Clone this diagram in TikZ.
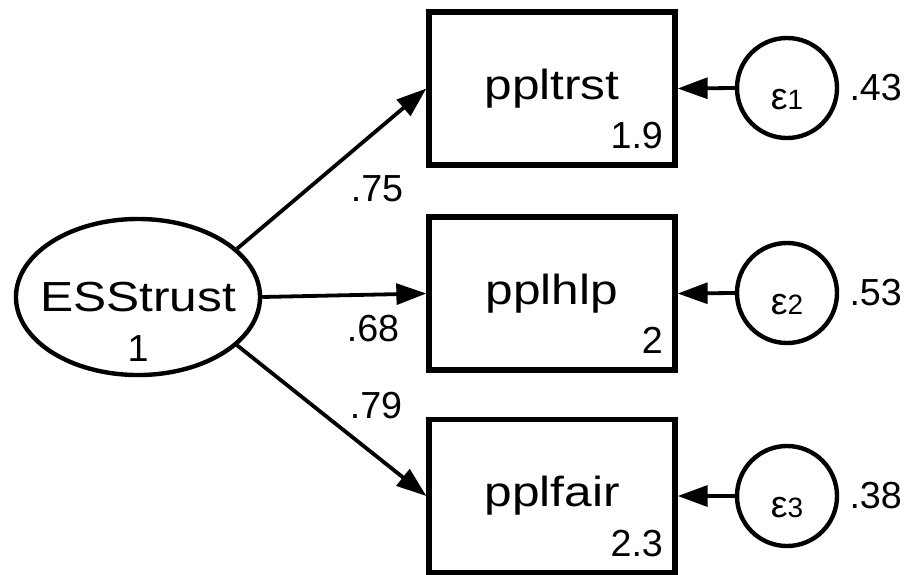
\documentclass[tikz,border=0pt]{standalone}
\usepackage{fontspec}
\setmainfont{Liberation Sans}
\newfontfamily\varfont{Liberation Sans}[FakeStretch=1.18]
\usepackage{tikz}
\usetikzlibrary{positioning,shapes.geometric,arrows.meta}
\newcommand{\varsize}{\varfont\fontsize{29.9}{36}\selectfont}
\newcommand{\numsize}{\fontsize{26.8}{32}\selectfont}
\newcommand{\errsub}[1]{{\fontsize{19.9}{24}\selectfont #1}}
\tikzset{
  obsv/.style={draw,rectangle,line width=0.13cm,minimum width=6.15cm,minimum height=3.825cm,inner sep=0pt,font=\varsize},
  latv/.style={draw,ellipse,line width=0.11cm,minimum width=6.1cm,minimum height=3.9cm,inner ysep=0pt,inner xsep=-0.5cm,font=\varsize},
  errv/.style={draw,circle,line width=0.11cm,minimum size=2.5cm,inner sep=0pt,font=\numsize,text height=1.05cm,text depth=0pt},
  num/.style={inner sep=0pt,font=\numsize},
  pth/.style={-{Triangle[length=0.75cm,width=0.52cm]},line width=0.095cm},
}
\begin{document}
\begin{tikzpicture}[x=0.025cm,y=-0.025cm]
  \useasboundingbox (0,0) rectangle (906,574);
  % latent factor
  \node[latv] (ess) at (138,297) {ESStrust};
  \node[num,anchor=base] (essvar) at ([yshift=-1.62cm]ess.center) {1};
  % indicators with their intercepts
  \node[obsv] (trst) at (552,88.5) {ppltrst};
  \node[obsv] (hlp) at (552,293.5) {pplhlp};
  \node[obsv] (fair) at (552,496) {pplfair};
  \node[num,anchor=base east] (trstcons) at ([xshift=-0.36cm,yshift=0.47cm]trst.south east) {1.9};
  \node[num,anchor=base east] (hlpcons) at ([xshift=-0.36cm,yshift=0.47cm]hlp.south east) {2};
  \node[num,anchor=base east] (faircons) at ([xshift=-0.36cm,yshift=0.47cm]fair.south east) {2.3};
  % error terms
  \node[errv] (e1) at (787,88) {ε\errsub{1}};
  \node[errv] (e2) at (787,293) {ε\errsub{2}};
  \node[errv] (e3) at (787,496) {ε\errsub{3}};
  \node[num,right=0.25cm of e1] (e1var) {.43};
  \node[num,right=0.25cm of e2] (e2var) {.53};
  \node[num,right=0.25cm of e3] (e3var) {.38};
  % loadings
  \draw[pth] (ess.26) -- (trst.west);
  \draw[pth] (ess.east) -- (hlp.west);
  \draw[pth] (ess.-26) -- (fair.west);
  \node[num] (ld1) at (377,189) {.75};
  \node[num] (ld2) at (373,329) {.68};
  \node[num] (ld3) at (376,406) {.79};
  \draw[pth] (e1.west) -- (trst.east);
  \draw[pth] (e2.west) -- (hlp.east);
  \draw[pth] (e3.west) -- (fair.east);
\end{tikzpicture}
\end{document}
